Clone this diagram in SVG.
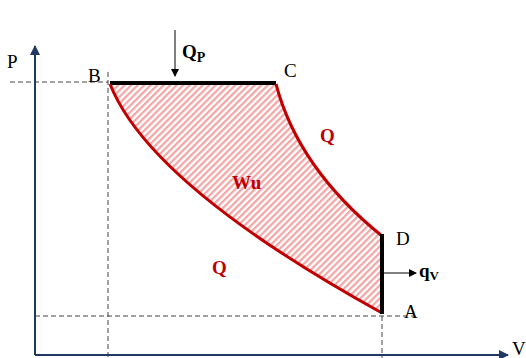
<svg xmlns="http://www.w3.org/2000/svg" width="526" height="358" viewBox="0 0 526 358">
<defs>
<pattern id="hatch" patternUnits="userSpaceOnUse" width="4.6" height="4.6" patternTransform="rotate(45)">
<rect width="4.6" height="4.6" fill="#fff"/>
<line x1="1.2" y1="0" x2="1.2" y2="4.6" stroke="#f2a3a3" stroke-width="2.2"/>
</pattern>
<marker id="ax" markerWidth="10" markerHeight="10" refX="9" refY="5" orient="auto" markerUnits="userSpaceOnUse"><path d="M0,0 L10,5 L0,10 Z" fill="#203864"/></marker>
<marker id="ar" markerWidth="8" markerHeight="8" refX="7" refY="4" orient="auto" markerUnits="userSpaceOnUse"><path d="M0,0 L8,4 L0,8 Z" fill="#000"/></marker>
</defs>
<style>
.lbl{font-family:"Liberation Serif","DejaVu Serif",serif;font-size:19px;fill:#000}
.red{font-family:"Liberation Serif","DejaVu Serif",serif;font-size:19px;font-weight:bold;fill:#c00000}
.dash{stroke:#444;stroke-width:1;stroke-dasharray:5,3;fill:none}
.curve{stroke:#c00000;stroke-width:3;fill:none}
</style>
<g id="region">
<path d="M110,84 L276,84 Q298,168 382,236 L382,313 C250,240 140,160 110,84 Z" fill="url(#hatch)"/>
</g>
<g id="guides">
<line class="dash" x1="10" y1="82" x2="108" y2="82"/>
<line class="dash" x1="108" y1="72" x2="108" y2="358"/>
<line class="dash" x1="35" y1="316" x2="415" y2="316"/>
<line class="dash" x1="382" y1="316" x2="382" y2="358"/>
</g>
<g id="axes">
<line x1="35" y1="355" x2="35" y2="46" stroke="#203864" stroke-width="2" marker-end="url(#ax)"/>
<line x1="35" y1="355" x2="508" y2="355" stroke="#203864" stroke-width="2" marker-end="url(#ax)"/>
<text class="lbl" x="7" y="68">P</text>
<text class="lbl" x="512" y="355">V</text>
</g>
<g id="connectors">
<line x1="110" y1="83" x2="276" y2="83" stroke="#000" stroke-width="4"/>
<path class="curve" d="M276,84 Q298,168 382,236"/>
<path class="curve" d="M110,84 C140,160 250,240 382,313"/>
<line x1="382" y1="234" x2="382" y2="314" stroke="#000" stroke-width="4"/>
<line x1="175" y1="30" x2="175" y2="76" stroke="#000" stroke-width="1" marker-end="url(#ar)"/>
<line x1="384" y1="273" x2="416" y2="273" stroke="#000" stroke-width="1" marker-end="url(#ar)"/>
</g>
<g id="B"><text class="lbl" x="88" y="82">B</text></g>
<g id="C"><text class="lbl" x="284" y="77">C</text></g>
<g id="D"><text class="lbl" x="396" y="245">D</text></g>
<g id="A"><text class="lbl" x="404" y="318">A</text></g>
<g id="Qp"><text class="lbl" x="182" y="58" font-weight="bold" font-size="22">Q<tspan font-size="14" dy="4">P</tspan></text></g>
<g id="qv"><text class="lbl" x="419" y="277" font-weight="bold" font-size="19">q<tspan font-size="13" dy="3">V</tspan></text></g>
<g id="labels">
<text class="red" x="320" y="142">Q</text>
<text class="red" x="232" y="189">Wu</text>
<text class="red" x="212" y="274">Q</text>
</g>
</svg>
